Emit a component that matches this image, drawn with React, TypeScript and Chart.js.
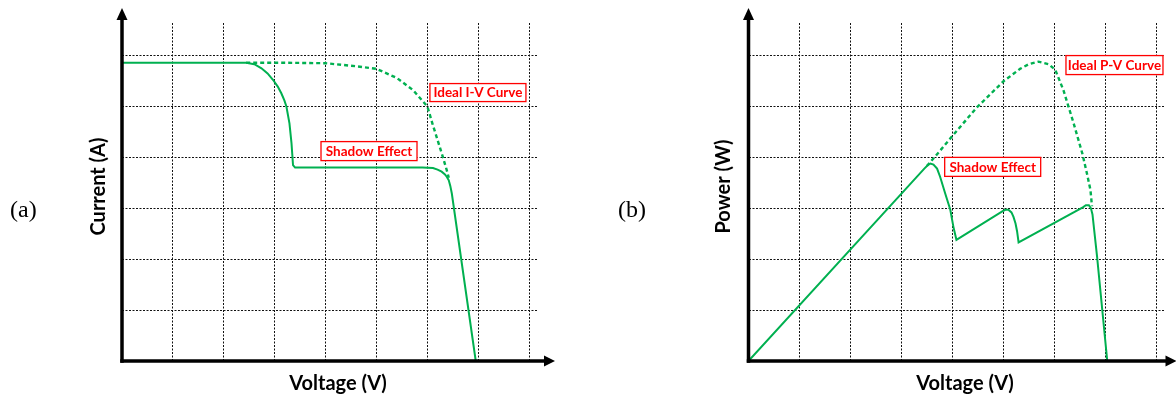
import React, { useEffect, useRef } from 'react';
import { Chart, registerables } from 'chart.js';

Chart.register(...registerables);

// ---------- Data (grid units: one grid cell = 1) ----------
// (a) I-V curves
const IV_SHADED_V = [0, 2.44, 2.6, 2.74, 2.86, 2.97, 3.06, 3.13, 3.19, 3.23, 3.29, 3.33, 3.36, 3.4, 5.9, 6.11, 6.2, 6.28, 6.34, 6.38, 6.42, 6.45, 6.48, 6.95];
const IV_SHADED_I = [5.86, 5.86, 5.83, 5.75, 5.65, 5.52, 5.39, 5.26, 5.12, 5.0, 4.67, 4.28, 3.85, 3.8, 3.8, 3.79, 3.76, 3.72, 3.67, 3.62, 3.55, 3.44, 3.29, 0];
const IV_IDEAL_V = [2.44, 3.1, 4.0, 4.6, 5.0, 5.4, 5.72, 6.0, 6.1, 6.2, 6.3, 6.38, 6.42];
const IV_IDEAL_I = [5.86, 5.86, 5.85, 5.79, 5.74, 5.56, 5.32, 5.0, 4.66, 4.34, 4.02, 3.75, 3.6];

// (b) P-V curves
const PV_SHADED_V = [0, 3.45, 3.52, 3.57, 3.63, 3.7, 3.76, 3.86, 3.96, 4.02, 4.08, 4.98, 5.04, 5.1, 5.16, 5.2, 5.24, 5.27, 5.3, 6.56, 6.62, 6.68, 6.72, 6.75, 6.84, 7.04];
const PV_SHADED_P = [0, 3.78, 3.85, 3.88, 3.86, 3.78, 3.62, 3.29, 2.97, 2.64, 2.38, 2.94, 2.97, 2.97, 2.92, 2.83, 2.7, 2.55, 2.33, 3.02, 3.06, 3.06, 3.0, 2.88, 2.05, 0];
const PV_IDEAL_V = [3.5, 3.75, 4.0, 4.48, 5.01, 5.33, 5.5, 5.69, 5.89, 6.02, 6.18, 6.38, 6.55, 6.64, 6.71, 6.74];
const PV_IDEAL_P = [3.83, 4.12, 4.42, 4.98, 5.5, 5.74, 5.83, 5.88, 5.83, 5.72, 5.32, 4.67, 4.08, 3.69, 3.36, 3.04];

// Axis extents and grid step (grid units)
const X_MAX = 8.173;
const Y_MAX = 6.64;
const GRID_STEP = 1;

// Text
const X_TITLE = 'Voltage (V)';
const Y_TITLE_A = 'Current (A)';
const Y_TITLE_B = 'Power (W)';
const LABEL_A = '(a)';
const LABEL_B = '(b)';
const NOTE_IDEAL_IV = 'Ideal I-V Curve';
const NOTE_IDEAL_PV = 'Ideal P-V Curve';
const NOTE_SHADOW = 'Shadow Effect';

// ---------- Styles ----------
const GREEN = '#00B050';
const RED = '#FF0000';
const TITLE_FONT = 'bold 20px Lato, "Open Sans", sans-serif';
const NOTE_FONT = 'bold 13.5px Lato, "Open Sans", sans-serif';
const SERIF_FONT = '24px "Liberation Serif", "DejaVu Serif", serif';

type Note = { text: string; x: number; y: number; w: number; h: number };

type PanelSpec = {
  shadedX: number[];
  shadedY: number[];
  idealX: number[];
  idealY: number[];
  yTitle: string;
  panelLabel: string;
  notes: Note[];
  padding: { left: number; top: number; right: number; bottom: number };
  xTitlePos: [number, number];
  yTitlePos: [number, number];
  labelPos: [number, number];
  xArrowTip: number;
  canvasLeft: number;
};

const toPoints = (xs: number[], ys: number[]) => xs.map((x, i) => ({ x, y: ys[i] }));

function makeDecor(spec: PanelSpec) {
  return {
    id: 'decor',
    afterDatasetsDraw(chart: any) {
      const { ctx } = chart;
      const xs = chart.scales.x;
      const ys = chart.scales.y;
      spec.notes.forEach((n) => {
        const px = xs.getPixelForValue(n.x);
        const py = ys.getPixelForValue(n.y);
        ctx.save();
        ctx.fillStyle = '#fff';
        ctx.fillRect(px, py, n.w, n.h);
        ctx.strokeStyle = RED;
        ctx.lineWidth = 1.3;
        ctx.strokeRect(px + 0.5, py + 0.5, n.w - 1, n.h - 1);
        ctx.fillStyle = RED;
        ctx.font = NOTE_FONT;
        ctx.textAlign = 'center';
        ctx.textBaseline = 'middle';
        ctx.fillText(n.text, px + n.w / 2, py + n.h / 2 + 0.5);
        ctx.restore();
      });
    },
    afterDraw(chart: any) {
      const { ctx } = chart;
      const xs = chart.scales.x;
      const ys = chart.scales.y;
      const ox = xs.getPixelForValue(0);
      const oy = ys.getPixelForValue(0);
      ctx.save();
      ctx.strokeStyle = '#000';
      ctx.fillStyle = '#000';
      ctx.lineWidth = 3.5;
      ctx.lineCap = 'butt';
      // y axis with arrow
      ctx.beginPath();
      ctx.moveTo(ox, oy + 1.75);
      ctx.lineTo(ox, 19);
      ctx.stroke();
      ctx.beginPath();
      ctx.moveTo(ox, 8);
      ctx.lineTo(ox - 5.5, 20);
      ctx.lineTo(ox + 5.5, 20);
      ctx.closePath();
      ctx.fill();
      // x axis with arrow
      const tip = ox + spec.xArrowTip;
      ctx.beginPath();
      ctx.moveTo(ox - 1.75, oy);
      ctx.lineTo(tip - 9, oy);
      ctx.stroke();
      ctx.beginPath();
      ctx.moveTo(tip, oy);
      ctx.lineTo(tip - 11, oy - 5.5);
      ctx.lineTo(tip - 11, oy + 5.5);
      ctx.closePath();
      ctx.fill();

      // axis titles
      ctx.font = TITLE_FONT;
      ctx.textAlign = 'center';
      ctx.textBaseline = 'alphabetic';
      ctx.fillText(X_TITLE, spec.xTitlePos[0], spec.xTitlePos[1]);
      ctx.save();
      ctx.translate(spec.yTitlePos[0], spec.yTitlePos[1]);
      ctx.rotate(-Math.PI / 2);
      ctx.textBaseline = 'middle';
      ctx.fillText(spec.yTitle, 0, 0);
      ctx.restore();

      // panel label
      ctx.font = SERIF_FONT;
      ctx.textAlign = 'left';
      ctx.textBaseline = 'alphabetic';
      ctx.fillText(spec.panelLabel, spec.labelPos[0], spec.labelPos[1]);
      ctx.restore();
    },
  };
}

function Panel({ spec }: { spec: PanelSpec }) {
  const ref = useRef<HTMLCanvasElement | null>(null);
  useEffect(() => {
    if (!ref.current) return;
    const chart = new Chart(ref.current, {
      type: 'line',
      data: {
        datasets: [
          {
            label: 'Shadow',
            data: toPoints(spec.shadedX, spec.shadedY),
            borderColor: GREEN,
            borderWidth: 2,
            pointRadius: 0,
            tension: 0,
            fill: false,
          },
          {
            label: 'Ideal',
            data: toPoints(spec.idealX, spec.idealY),
            borderColor: GREEN,
            borderWidth: 2.4,
            borderDash: [4, 3],
            pointRadius: 0,
            tension: 0,
            fill: false,
          },
        ],
      },
      options: {
        responsive: false,
        animation: false,
        devicePixelRatio: 1,
        layout: { padding: spec.padding },
        plugins: { legend: { display: false }, tooltip: { enabled: false } },
        events: [],
        scales: {
          x: {
            type: 'linear',
            min: 0,
            max: X_MAX,
            ticks: { display: false, stepSize: GRID_STEP, includeBounds: false },
            grid: { color: '#111', lineWidth: 1, drawTicks: false },
            border: { display: false, dash: [2, 1.5] },
          },
          y: {
            type: 'linear',
            min: 0,
            max: Y_MAX,
            ticks: { display: false, stepSize: GRID_STEP, includeBounds: false },
            grid: { color: '#111', lineWidth: 1, drawTicks: false },
            border: { display: false, dash: [2, 1.5] },
          },
        },
      },
      plugins: [makeDecor(spec)],
    } as any);
    return () => chart.destroy();
  }, [spec]);
  return (
    <canvas
      ref={ref}
      width={588}
      height={399}
      style={{ position: 'absolute', left: spec.canvasLeft, top: 0, width: 588, height: 399 }}
    />
  );
}

const SPEC_A: PanelSpec = {
  shadedX: IV_SHADED_V,
  shadedY: IV_SHADED_I,
  idealX: IV_IDEAL_V,
  idealY: IV_IDEAL_I,
  yTitle: Y_TITLE_A,
  panelLabel: LABEL_A,
  notes: [
    { text: NOTE_IDEAL_IV, x: 6.04, y: 5.46, w: 97, h: 19 },
    { text: NOTE_SHADOW, x: 3.9, y: 4.32, w: 97, h: 20 },
  ],
  padding: { left: 122, top: 23, right: 50, bottom: 38 },
  xTitlePos: [338, 390],
  yTitlePos: [99, 186.5],
  labelPos: [10, 217],
  xArrowTip: 433,
  canvasLeft: 0,
};

const SPEC_B: PanelSpec = {
  shadedX: PV_SHADED_V,
  shadedY: PV_SHADED_P,
  idealX: PV_IDEAL_V,
  idealY: PV_IDEAL_P,
  yTitle: Y_TITLE_B,
  panelLabel: LABEL_B,
  notes: [
    { text: NOTE_IDEAL_PV, x: 6.22, y: 6.01, w: 98, h: 20 },
    { text: NOTE_SHADOW, x: 3.84, y: 4.01, w: 97, h: 20 },
  ],
  padding: { left: 160.5, top: 23, right: 11, bottom: 38 },
  xTitlePos: [377, 390],
  yTitlePos: [136, 186.5],
  labelPos: [30, 217],
  xArrowTip: 428,
  canvasLeft: 588,
};

export default function App() {
  return (
    <div style={{ position: 'absolute', left: 0, top: 0, width: 1176, height: 399, background: '#fff', overflow: 'hidden' }}>
      <Panel spec={SPEC_A} />
      <Panel spec={SPEC_B} />
    </div>
  );
}
